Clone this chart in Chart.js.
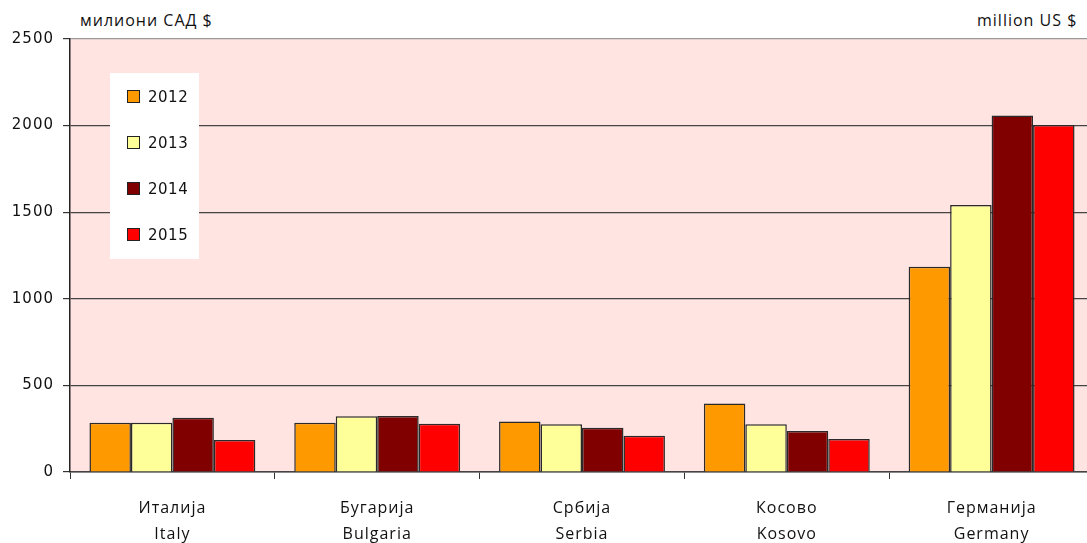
<!DOCTYPE html>
<html>
<head>
<meta charset="utf-8">
<script src="https://cdn.jsdelivr.net/npm/chart.js@4/dist/chart.umd.min.js"></script>
<style>
  html, body { margin: 0; padding: 0; background: #fff; overflow: hidden; width: 1087px; height: 543px; }
  #wrap { position: absolute; left: 0; top: 0; width: 1094px; height: 543px; }
  .unit { position: absolute; top: 9px; font-family: "Open Sans", sans-serif; font-size: 16px; letter-spacing: 1px; color: #111; white-space: nowrap; }
</style>
</head>
<body>
<div class="unit" style="left:80px">милиони САД $</div>
<div class="unit" style="left:977px">million US $</div>
<div id="wrap"><canvas id="myChart" width="1094" height="543"></canvas></div>
<script>
// countries, two lines each (macedonian / english)
const COUNTRIES_MK = ["Италија", "Бугарија", "Србија", "Косово", "Германија"]
const COUNTRIES_EN = ["Italy", "Bulgaria", "Serbia", "Kosovo", "Germany"]
const YEARS = ["2012", "2013", "2014", "2015"]

// million US $
const v2012 = [285, 284, 291, 396, 1185]
const v2013 = [285, 322, 276, 275, 1541]
const v2014 = [313, 324, 255, 237, 2059]
const v2015 = [185, 279, 210, 190, 2003]

const Y_TICKS = [0, 500, 1000, 1500, 2000, 2500]

const COLORS = ["#FF9900", "#FFFF99", "#800000", "#FF0000"]

let labels = COUNTRIES_MK.map((mk, i) => [mk, COUNTRIES_EN[i]])
let series = [v2012, v2013, v2014, v2015]

// pink plot area + a bit of letter spacing like the original
const plotBg = {
  id: "plotBg",
  beforeDraw(chart) {
    const a = chart.chartArea
    const ctx = chart.ctx
    ctx.letterSpacing = "1px"
    ctx.save()
    ctx.fillStyle = "#FFE4E1"
    ctx.fillRect(a.left, a.top, a.right - a.left, a.bottom - a.top)
    ctx.restore()
  }
}

// legend box sitting inside the plot
const boxLegend = {
  id: "boxLegend",
  afterDraw(chart) {
    const ctx = chart.ctx
    ctx.save()
    ctx.fillStyle = "#fff"
    ctx.fillRect(110, 73, 89, 186)
    chart.data.datasets.forEach((ds, i) => {
      const y = 97 + i * 46
      ctx.fillStyle = ds.backgroundColor
      ctx.fillRect(127, y - 7, 13, 13)
      ctx.strokeStyle = "#222"
      ctx.lineWidth = 1
      ctx.strokeRect(127.5, y - 6.5, 12, 12)
      ctx.fillStyle = "#111"
      ctx.font = "15px 'DejaVu Sans'"
      ctx.letterSpacing = "0.5px"
      ctx.textBaseline = "middle"
      ctx.fillText(ds.label, 148, y + 1)
    })
    ctx.restore()
  }
}

new Chart(document.getElementById("myChart"), {
  type: "bar",
  data: {
    labels: labels,
    datasets: YEARS.map((yr, i) => ({
      label: yr,
      data: series[i],
      backgroundColor: COLORS[i],
      borderColor: "#2a2a2a",
      borderWidth: 1.5,
      borderSkipped: "bottom",
      barPercentage: 1.0,
      categoryPercentage: 0.81
    }))
  },
  options: {
    responsive: false,
    animation: false,
    layout: { padding: { top: 39, right: 0, left: 0, bottom: 0 } },
    plugins: { legend: { display: false }, tooltip: { enabled: false } },
    scales: {
      x: {
        offset: true,
        grid: { display: true, drawOnChartArea: false, drawTicks: true, tickLength: 7, color: "#333", offset: true },
        border: { color: "#444", width: 1.5 },
        ticks: {
          color: "#111",
          font: { family: "Open Sans", size: 16, lineHeight: 1.65 },
          padding: 16,
          maxRotation: 0
        },
        afterFit(scale) { scale.height = 71 }
      },
      y: {
        min: 0,
        max: 2500,
        afterBuildTicks(scale) { scale.ticks = Y_TICKS.map(v => ({ value: v })) },
        grid: {
          color: ctx => (ctx.tick && ctx.tick.value === 2500) ? "#999" : "#444",
          lineWidth: 1.2,
          tickLength: 7,
          tickColor: "#333"
        },
        border: { color: "#222", width: 1.5 },
        ticks: {
          color: "#111",
          font: { family: "DejaVu Sans", size: 15 },
          padding: 9,
          callback: v => String(v)
        },
        afterFit(scale) { scale.width = 70 }
      }
    }
  },
  plugins: [plotBg, boxLegend]
})
</script>
</body>
</html>
